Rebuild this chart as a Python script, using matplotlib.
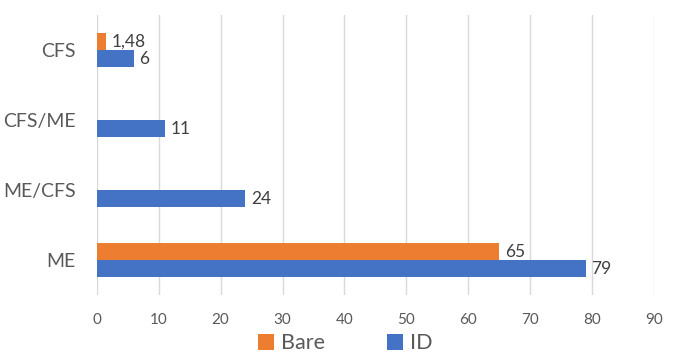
import matplotlib
matplotlib.use("Agg")
import matplotlib.pyplot as plt
import numpy as np

# chart data (bottom to top)
categories = ["ME", "ME/CFS", "CFS/ME", "CFS"]
bare_values = [65, 0, 0, 1.48]
id_values = [79, 24, 11, 6]
bare_labels = ["65", "", "", "1,48"]
id_labels = ["79", "24", "11", "6"]
x_ticks = [0, 10, 20, 30, 40, 50, 60, 70, 80, 90]

plt.rcParams['font.family'] = ['Lato', 'DejaVu Sans']
text_col = "#595959"
orange = "#ED7D31"
blue = "#4472C4"

fig = plt.figure(figsize=(6.77, 3.55), dpi=100)
ax = fig.add_axes([0.143, 0.168, 0.823, 0.79])

y = np.arange(len(categories))
h = 0.245
b1 = ax.barh(y + h / 2, bare_values, height=h, color=orange, label="Bare")
b2 = ax.barh(y - h / 2, id_values, height=h, color=blue, label="ID")

# value labels next to the bars
for bar, lab in zip(b1, bare_labels):
    if lab:
        ax.text(bar.get_width() + 0.9, bar.get_y() + bar.get_height() / 2, lab,
                va="center", ha="left", fontsize=12.5, color="#404040")
for bar, lab in zip(b2, id_labels):
    ax.text(bar.get_width() + 0.9, bar.get_y() + bar.get_height() / 2, lab,
            va="center", ha="left", fontsize=12.5, color="#404040")

ax.set_xlim(0, 90)
ax.set_ylim(-0.5, len(categories) - 0.5)
ax.set_xticks(x_ticks)
ax.set_yticks(y)
ax.set_yticklabels(categories, fontsize=14, color=text_col)
ax.tick_params(axis="x", labelsize=11, colors=text_col, length=0, pad=13)
ax.tick_params(axis="y", length=0, pad=15)
ax.xaxis.grid(True, color="#D9D9D9", linewidth=1)
ax.set_axisbelow(True)
for s in ax.spines.values():
    s.set_visible(False)

fig.legend(handles=[b1, b2], labels=["Bare", "ID"], loc="lower center",
           bbox_to_anchor=(0.51, -0.05), ncol=2, frameon=False, fontsize=15.5,
           labelcolor=text_col, handlelength=0.75, handleheight=0.75,
           columnspacing=2.9, handletextpad=0.3)

fig.savefig("out.png", dpi=100)
